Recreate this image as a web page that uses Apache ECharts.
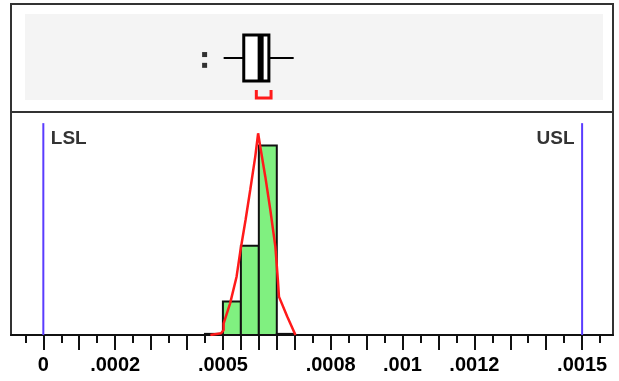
<!DOCTYPE html>
<html>
<head>
<meta charset="utf-8">
<script src="https://cdn.jsdelivr.net/npm/echarts@6/dist/echarts.min.js"></script>
<style>
html,body{margin:0;padding:0;background:#fff;}
#chart{width:619px;height:381px;}
</style>
</head>
<body>
<div id="chart"></div>
<script>
// ---- data ----
const xMin = -0.00009;
const xMax = 0.001586;

const binWidth = 0.00005;
const binStarts = [0.00045, 0.0005, 0.00055, 0.0006, 0.00065];
const binCounts = [0.1, 3, 8, 17, 0.1];

const curveX = [0.000465, 0.000495, 0.000502, 0.000502, 0.000520, 0.000538, 0.000549, 0.000563, 0.000576, 0.000590, 0.000598, 0.000604, 0.000618, 0.000632, 0.000646, 0.000653, 0.000656, 0.000679, 0.000702];
const curveY = [0, 0.15, 0.45, 1.05, 2.84, 5.23, 7.62, 10.31, 13.0, 16.0, 18.09, 16.89, 14.20, 11.21, 7.92, 4.93, 3.44, 1.65, 0];

const specNames = ['LSL', 'USL'];
const specLimits = [0, 0.0015];
const specTop = 19;
const specLabelY = 17.6;

// box plot: whisker low, Q1, median, Q3, whisker high
const boxStats = [0.000502, 0.000558, 0.000605, 0.000628, 0.000697];
const shortestHalf = [0.000593, 0.000634];
const outlierX = [0.000449, 0.000449];
const outlierJitter = [0.532, 0.432];

const majorTicks = [0, 0.0001, 0.0002, 0.0003, 0.0004, 0.0005, 0.00055, 0.0006, 0.00065, 0.0007, 0.0008, 0.0009, 0.001, 0.0011, 0.0012, 0.0013, 0.0014, 0.0015];
const minorTicks = [-0.00005, 0.00005, 0.00015, 0.00025, 0.00035, 0.00045, 0.00075, 0.00085, 0.00095, 0.00105, 0.00115, 0.00125, 0.00135, 0.00145, 0.00155];
const labelValues = [0, 0.0002, 0.0005, 0.0008, 0.001, 0.0012, 0.0015];
const tickLabels = ['0', '.0002', '.0005', '.0008', '.001', '.0012', '.0015'];

// ---- chart ----
const FONT = "'Liberation Sans', Arial, sans-serif";
const chart = echarts.init(document.getElementById('chart'), null, {renderer: 'canvas'});

function labelFor(v) {
  let best = 0, bd = Infinity;
  labelValues.forEach((lv, i) => { const d = Math.abs(lv - v); if (d < bd) { bd = d; best = i; } });
  return tickLabels[best];
}

const series = [];

// histogram bars
series.push({
  type: 'custom', xAxisIndex: 1, yAxisIndex: 1, z: 2,
  data: binStarts.map((b, i) => [b, binCounts[i]]),
  renderItem: function (params, api) {
    const x0 = api.value(0), c = api.value(1);
    const p0 = api.coord([x0, c]);
    const p1 = api.coord([x0 + binWidth, 0]);
    return {
      type: 'rect',
      shape: {x: p0[0], y: p0[1], width: p1[0] - p0[0], height: p1[1] - p0[1]},
      style: {fill: '#80f080', stroke: '#111', lineWidth: 2}
    };
  }
});

// normal curve
series.push({
  type: 'line', xAxisIndex: 1, yAxisIndex: 1, z: 5,
  data: curveX.map((x, i) => [x, curveY[i]]),
  symbol: 'none', lineStyle: {color: '#ff1a1a', width: 2.5}
});

// spec limit lines
specLimits.forEach((v) => {
  series.push({
    type: 'line', xAxisIndex: 1, yAxisIndex: 1, z: 4,
    data: [[v, 0], [v, specTop]],
    symbol: 'none', lineStyle: {color: '#5a3cff', width: 2}
  });
});

// spec labels
series.push({
  type: 'scatter', xAxisIndex: 1, yAxisIndex: 1, z: 6,
  symbolSize: 1, itemStyle: {color: 'rgba(0,0,0,0)'},
  data: specLimits.map((v, i) => ({
    value: [v, specLabelY], name: specNames[i],
    label: {position: i === 0 ? 'right' : 'left'}
  })),
  label: {
    show: true, formatter: '{b}', distance: 7,
    fontFamily: FONT, fontWeight: 'bold', fontSize: 19, color: '#000'
  }
});

// box plot
series.push({
  type: 'custom', xAxisIndex: 0, yAxisIndex: 0, z: 5,
  data: [boxStats.concat(shortestHalf)],
  renderItem: function (params, api) {
    const v = i => api.value(i);
    const c = y => api.coord([y, 0.5]);
    const wl = c(v(0)), q1 = c(v(1)), md = c(v(2)), q3 = c(v(3)), wh = c(v(4));
    const s0 = c(v(5)), s1 = c(v(6));
    const cy = wl[1], hh = 23;
    const black = '#000';
    return {
      type: 'group',
      children: [
        {type: 'line', shape: {x1: wl[0], y1: cy, x2: q1[0], y2: cy}, style: {stroke: black, lineWidth: 2}},
        {type: 'line', shape: {x1: q3[0], y1: cy, x2: wh[0], y2: cy}, style: {stroke: black, lineWidth: 2}},
        {type: 'rect', shape: {x: q1[0], y: cy - hh, width: q3[0] - q1[0], height: 2 * hh}, style: {fill: '#fff', stroke: black, lineWidth: 3}},
        {type: 'line', shape: {x1: md[0], y1: cy - hh, x2: md[0], y2: cy + hh}, style: {stroke: black, lineWidth: 6}},
        {type: 'polyline', shape: {points: [[s0[0], cy + 32], [s0[0], cy + 40], [s1[0], cy + 40], [s1[0], cy + 32]]}, style: {fill: 'none', stroke: '#ff1a1a', lineWidth: 3}}
      ]
    };
  }
});

// outliers
series.push({
  type: 'scatter', xAxisIndex: 0, yAxisIndex: 0, z: 5,
  symbol: 'rect', symbolSize: [5, 5], itemStyle: {color: '#000'},
  data: outlierX.map((x, i) => [x, outlierJitter[i]])
});

const option = {
  animation: false,
  backgroundColor: '#fff',
  graphic: [{
    type: 'rect', z: -1, silent: true,
    shape: {x: 25, y: 14, width: 578, height: 86},
    style: {fill: '#f4f4f4'}
  }],
  grid: [
    {left: 11, right: 6, top: 4, height: 108, show: true, borderColor: '#333', borderWidth: 2},
    {left: 11, right: 6, top: 112, height: 223, show: true, borderColor: '#333', borderWidth: 2}
  ],
  xAxis: [
    {gridIndex: 0, type: 'value', min: xMin, max: xMax, show: false},
    {
      gridIndex: 1, type: 'value', min: xMin, max: xMax, position: 'bottom',
      axisLine: {show: true, lineStyle: {color: '#111', width: 2}},
      axisTick: {show: true, customValues: majorTicks, length: 15, lineStyle: {color: '#111', width: 2}},
      axisLabel: {
        show: true, customValues: labelValues, formatter: labelFor, margin: 20,
        fontFamily: FONT, fontWeight: 'bold', fontSize: 20, color: '#000'
      },
      splitLine: {show: false}
    },
    {
      gridIndex: 1, type: 'value', min: xMin, max: xMax, position: 'bottom',
      axisLine: {show: false},
      axisTick: {show: true, customValues: minorTicks, length: 8, lineStyle: {color: '#111', width: 2}},
      axisLabel: {show: false},
      splitLine: {show: false}
    }
  ],
  yAxis: [
    {gridIndex: 0, type: 'value', min: 0, max: 1, show: false},
    {gridIndex: 1, type: 'value', min: 0, max: 20, show: false}
  ],
  series: series
};
chart.setOption(option);
</script>
</body>
</html>
